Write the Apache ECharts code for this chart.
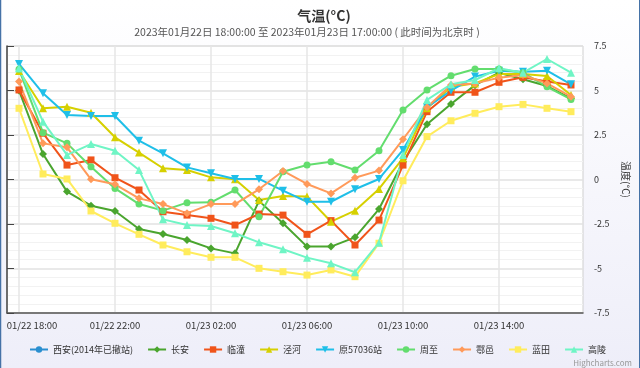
<!DOCTYPE html>
<html><head><meta charset="utf-8">
<script src="https://cdn.jsdelivr.net/npm/echarts/dist/echarts.min.js"></script>
<style>html,body{margin:0;padding:0;background:#fff}#c{width:640px;height:368px}</style>
</head><body><div id="c"></div>
<script>
const categories = ['01/22 18:00','01/22 19:00','01/22 20:00','01/22 21:00','01/22 22:00','01/22 23:00',
  '01/23 00:00','01/23 01:00','01/23 02:00','01/23 03:00','01/23 04:00','01/23 05:00',
  '01/23 06:00','01/23 07:00','01/23 08:00','01/23 09:00','01/23 10:00','01/23 11:00',
  '01/23 12:00','01/23 13:00','01/23 14:00','01/23 15:00','01/23 16:00','01/23 17:00'];
const yTicks = [-7.5, 7.5, 2.5];
const titleText = '气温(°C)';
const subtitleText = '2023年01月22日 18:00:00 至 2023年01月23日 17:00:00 ( 此时间为北京时 )';
const yName = '温度(°C)';

const xian = [];
const changan = [5.0, 1.43, -0.68, -1.47, -1.77, -2.78, -3.06, -3.4, -3.87, -4.15, -1.2, -2.46, -3.77, -3.77, -3.25, -1.66, 1.0, 3.1, 4.24, 5.3, 6.0, 5.63, 5.25, 4.56];
const lintong = [5.03, 2.6, 0.81, 1.1, 0.1, -0.59, -1.81, -2.0, -2.18, -2.56, -1.94, -2.0, -3.08, -2.31, -3.68, -2.28, 0.81, 3.81, 4.9, 4.9, 5.46, 5.74, 5.5, 5.31];
const jinghe = [6.1, 4.0, 4.09, 3.75, 2.37, 1.51, 0.63, 0.53, 0.12, 0.01, -1.15, -0.93, -0.96, -2.37, -1.75, -0.53, 1.2, 4.0, 5.2, 5.4, 5.93, 5.93, 5.81, 4.75];
const yuan57036 = [6.49, 4.84, 3.62, 3.57, 3.57, 2.18, 1.47, 0.68, 0.35, 0.03, 0.03, -0.63, -1.25, -1.25, -0.55, 0.03, 1.66, 4.06, 4.99, 5.78, 6.11, 6.06, 6.11, 5.35];
const zhouzhi = [6.19, 2.63, 2.03, 0.72, -0.5, -1.38, -1.75, -1.3, -1.28, -0.59, -2.09, 0.44, 0.81, 1.0, 0.53, 1.62, 3.9, 5.03, 5.83, 6.21, 6.21, 6.0, 5.21, 4.5];
const huyi = [5.5, 2.03, 1.81, 0.01, -0.27, -1.06, -1.38, -1.9, -1.38, -1.38, -0.55, 0.48, -0.25, -0.78, 0.1, 0.5, 2.26, 4.06, 5.31, 5.4, 5.72, 5.87, 5.4, 4.65];
const lantian = [4.0, 0.31, 0.03, -1.77, -2.46, -3.08, -3.68, -4.06, -4.37, -4.37, -4.99, -5.18, -5.37, -5.08, -5.46, -3.58, -0.07, 2.41, 3.3, 3.72, 4.09, 4.22, 4.0, 3.81];
const gaoling = [6.25, 3.25, 1.38, 1.99, 1.62, 0.53, -2.24, -2.56, -2.61, -3.02, -3.53, -3.92, -4.39, -4.71, -5.21, -3.55, 1.38, 4.47, 5.35, 5.59, 6.25, 6.0, 6.77, 6.0];

const seriesNames = ['西安(2014年已撤站)','长安','临潼','泾河','原57036站','周至','鄠邑','蓝田','高陵'];
const seriesData = [xian, changan, lintong, jinghe, yuan57036, zhouzhi, huyi, lantian, gaoling];
const colors = ['#2a8fd0','#4aa52e','#f0541a','#d6d000','#1fbfe8','#63dd6e','#ff9a5a','#ffec5c','#6ff5c5'];
const downTri = 'path://M0,0L2,0L1,1.8Z';
const symbols = ['circle','diamond','rect','triangle',downTri,'circle','diamond','rect','triangle'];
const symSizes = [7,8,7,8,8,7,8,7,8];

const FONT = '"Noto Sans CJK SC", "Noto Sans", sans-serif';
const chart = echarts.init(document.getElementById('c'), null, {renderer:'canvas'});

const series = seriesNames.map((n, k) => ({
  name: n, type: 'line', xAxisIndex: 1, yAxisIndex: 1,
  data: seriesData[k], color: colors[k],
  symbol: symbols[k], symbolSize: symSizes[k], showAllSymbol: true,
  lineStyle: {width: 2, color: colors[k]},
  itemStyle: {color: colors[k]},
  emphasis: {disabled: true}, animation: false
}));

chart.setOption({
  animation: false,
  backgroundColor: {type:'linear', x:0, y:0, x2:0, y2:1, colorStops:[{offset:0,color:'#ffffff'},{offset:1,color:'#eeeef9'}]},
  textStyle: {fontFamily: FONT},
  title: [
    {text: titleText, left: 319, textAlign: 'center', top: 4,
     textStyle: {fontSize: 14, fontWeight: 'bold', color: '#333', fontFamily: FONT}},
    {text: subtitleText, left: 302, textAlign: 'center', top: 22,
     textStyle: {fontSize: 10.5, fontWeight: 'normal', color: '#555', fontFamily: FONT}}
  ],
  legend: {
    data: seriesNames, bottom: 9, left: 24, itemGap: 14, itemWidth: 18, itemHeight: 8,
    textStyle: {fontSize: 9, color: '#333', fontFamily: FONT}, selectedMode: false
  },
  grid: [
    {left: 7, right: 57, top: 46, bottom: 55, show: true, backgroundColor: '#ffffff', borderColor: '#cfcfcf', borderWidth: 1},
    {left: 19, right: 69, top: 46, bottom: 55}
  ],
  xAxis: [
    {gridIndex: 0, type: 'value', min: 0, max: 1, axisLabel: {show: false}, axisTick: {show: false}, splitLine: {show: false},
     axisLine: {show: true, onZero: false, lineStyle: {color: '#555', width: 1.5}}},
    {gridIndex: 1, type: 'category', data: categories, boundaryGap: false,
     axisLine: {show: false, onZero: false}, axisTick: {show: false},
     axisLabel: {interval: 3, fontSize: 9.5, color: '#333', margin: 8, fontFamily: FONT,
       formatter: (v, i) => i === 0 ? '{f|' + v + '}' : v,
       rich: {f: {padding: [0, 0, 0, 26], fontSize: 9.5, color: '#333', fontFamily: FONT}}},
     splitLine: {show: true, interval: 3, lineStyle: {color: '#e6e6e6', width: 1.5}}}
  ],
  yAxis: [
    {gridIndex: 0, type: 'value', position: 'right', min: yTicks[0], max: yTicks[1], interval: yTicks[2],
     axisLine: {show: true, lineStyle: {color: '#444', width: 1.5}},
     axisTick: {show: true, inside: false, length: 7, lineStyle: {color: '#444'}},
     axisLabel: {fontSize: 9, color: '#333', margin: 11, fontFamily: FONT},
     splitLine: {show: true, lineStyle: {color: '#e2e2e2', width: 1.5}},
     minorTick: {show: false, splitNumber: 5},
     minorSplitLine: {show: true, lineStyle: {color: '#f2f2f2', width: 1}},
     name: yName, nameLocation: 'middle', nameRotate: -90, nameGap: 38,
     nameTextStyle: {fontSize: 10, color: '#333', fontFamily: FONT}},
    {gridIndex: 1, type: 'value', min: yTicks[0], max: yTicks[1], show: false}
  ],
  graphic: [
    {type: 'line', shape: {x1: 0.5, y1: 0, x2: 0.5, y2: 368}, style: {stroke: '#4572A7', lineWidth: 1.5}, silent: true},
    {type: 'line', shape: {x1: 639.5, y1: 0, x2: 639.5, y2: 368}, style: {stroke: '#4572A7', lineWidth: 1}, silent: true},
    {type: 'text', right: 8, bottom: 1, style: {text: 'Highcharts.com', fontSize: 8, fill: '#999', fontFamily: FONT}, silent: true}
  ],
  series: series
});
</script></body></html>
